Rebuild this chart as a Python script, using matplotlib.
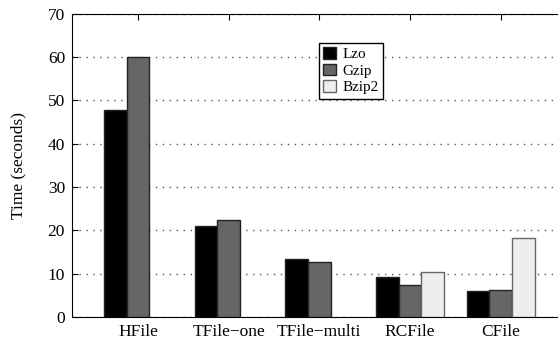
import numpy as np
import matplotlib.pyplot as plt

formats = ['HFile', 'TFile\u2212one', 'TFile\u2212multi', 'RCFile', 'CFile']
lzo = [47.8, 21.0, 13.3, 9.2, 6.0]
gzip = [60.0, 22.3, 12.8, 7.4, 6.3]
bzip2 = [np.nan, np.nan, np.nan, 10.5, 18.3]

plt.rcParams['font.family'] = ['Liberation Serif', 'DejaVu Serif']

fig = plt.figure(figsize=(5.58, 3.41), dpi=100)
ax = fig.add_axes([0.129, 0.0704, 0.869, 0.889])

x = np.arange(len(formats))
w = 0.25
ax.bar(x - w, lzo, w, color='black', edgecolor='#222222', linewidth=1, label='Lzo', zorder=3)
ax.bar(x, gzip, w, color='#666666', edgecolor='#222222', linewidth=1, label='Gzip', zorder=3)
ax.bar(x + w, bzip2, w, color='#eeeeee', edgecolor='#666666', linewidth=1, label='Bzip2', zorder=3)

ax.set_xlim(-0.728, 4.62)
ax.set_ylim(0, 70)
ax.set_yticks(range(0, 71, 10))
ax.set_xticks(x)
ax.set_xticklabels(formats, fontsize=12.5)
ax.tick_params(axis='y', labelsize=12.5, direction='in', length=4, pad=5)
ax.tick_params(axis='x', direction='in', length=4, top=True, pad=5)
ax.yaxis.grid(True, linestyle=(0, (1, 4)), color='#555555', linewidth=1, zorder=0)
ax.set_ylabel('Time (seconds)', fontsize=12.5)
ax.yaxis.set_label_coords(-0.093, 0.5)
ax.spines['right'].set_visible(False)

ax.legend(loc='upper left', bbox_to_anchor=(0.509, 0.905), fontsize=11,
          frameon=True, fancybox=False, edgecolor='black', framealpha=1,
          handlelength=0.85, handleheight=0.8, handletextpad=0.4,
          labelspacing=0.15, borderpad=0.3, borderaxespad=0)

fig.savefig('out.png', dpi=100)
